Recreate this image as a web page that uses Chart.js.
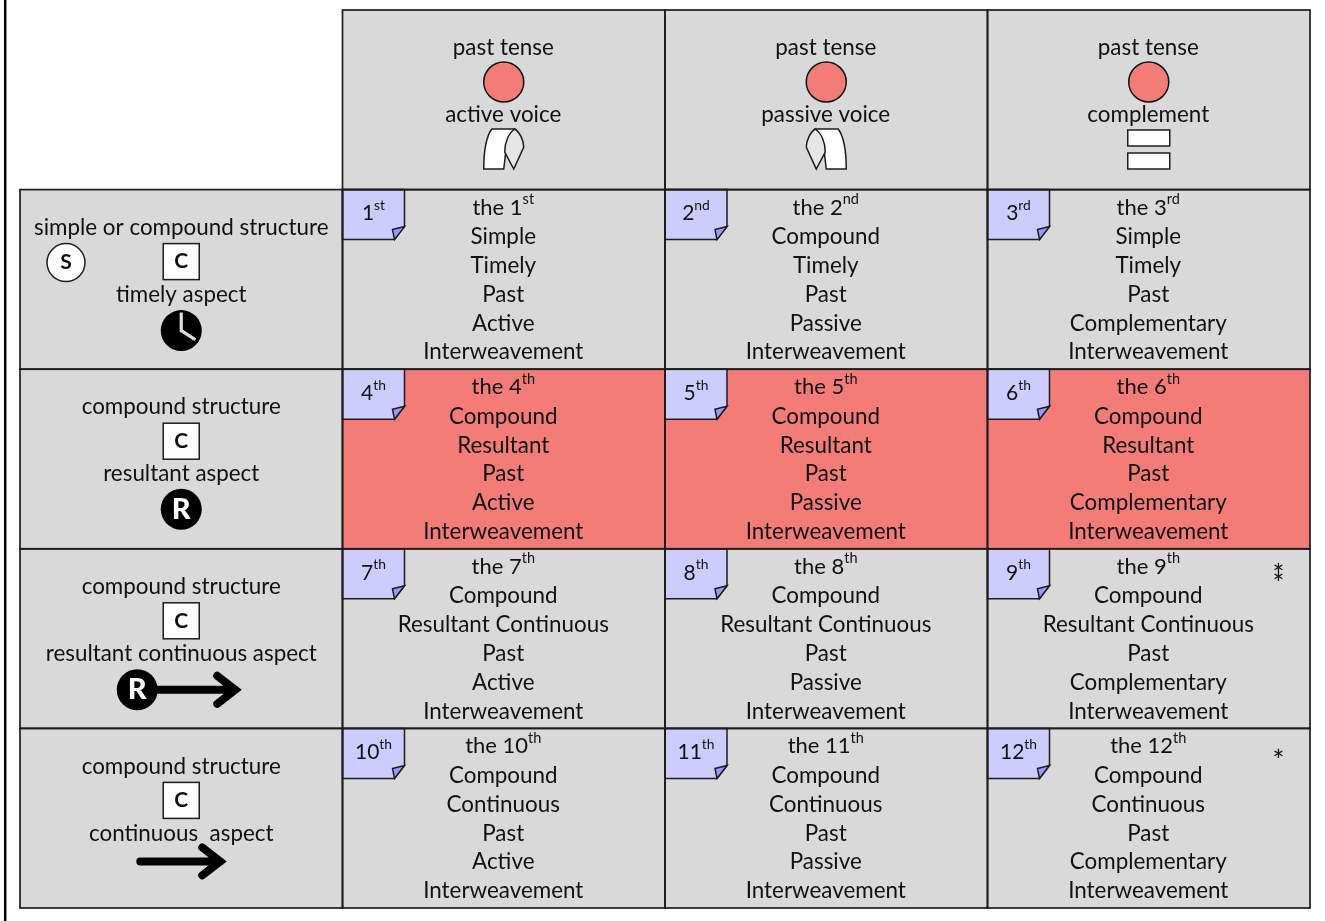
<!DOCTYPE html>
<html>
<head>
<meta charset="utf-8">
<title>Past tense interweavements</title>
<script src="https://cdn.jsdelivr.net/npm/chart.js@4"></script>
<style>
  html, body { margin: 0; padding: 0; background: #ffffff; }
  canvas { display: block; }
</style>
</head>
<body>
<canvas id="tenseChart" width="1325" height="921"></canvas>
<script>
const rowKeys = ["head", "timely", "resultant", "resultantContinuous", "continuous"];
const columnKeys = ["aspect", "active", "passive", "complement"];

const tenseLabels = ["past tense", "past tense", "past tense"];
const voiceHeads = ["active voice", "passive voice", "complement"];
const voiceNames = ["Active", "Passive", "Complementary"];
const structureHeads = ["simple or compound structure", "compound structure", "compound structure", "compound structure"];
const aspectHeads = ["timely aspect", "resultant aspect", "resultant continuous aspect", "continuous  aspect"];
const aspectNames = ["Timely", "Resultant", "Resultant Continuous", "Continuous"];
const structureNames = [
  ["Simple", "Compound", "Simple"],
  ["Compound", "Compound", "Compound"],
  ["Compound", "Compound", "Compound"],
  ["Compound", "Compound", "Compound"],
];
const ordinalNumbers = ["1", "2", "3", "4", "5", "6", "7", "8", "9", "10", "11", "12"];
const ordinalSuffixes = ["st", "nd", "rd", "th", "th", "th", "th", "th", "th", "th", "th", "th"];
const cellStars = { 8: "two", 11: "one" };

const GREY = "#d9d9d9";
const RED = "#f47c78";
const LINE = "#1c1c1c";
const NOTE = "#ccccff";
const FOLD = "#9999ff";
const FONT = "Lato, Carlito, sans-serif";
const TEXT_SIZE = 22.4;

const cellFill = (row, col) => (row === 2 && col > 0 ? RED : GREY);

const datasets = columnKeys.map((key, col) => ({
  label: key,
  data: rowKeys.map((r, i) => (i === 0 && col === 0 ? null : [col, col + 1])),
  backgroundColor: rowKeys.map((r, i) => cellFill(i, col)),
  borderWidth: 0,
  barPercentage: 1,
  categoryPercentage: 1,
  grouped: false,
}));

const label = (ctx, text, x, y, size = TEXT_SIZE, weight = "") => {
  ctx.font = `${weight} ${size}px ${FONT}`;
  ctx.textAlign = "center";
  ctx.textBaseline = "middle";
  ctx.fillStyle = "#111";
  ctx.fillText(text, x, y);
};

const ordinal = (ctx, num, suffix, x, y, prefix, size) => {
  ctx.textBaseline = "middle";
  ctx.fillStyle = "#111";
  ctx.font = `${size}px ${FONT}`;
  const main = prefix + num;
  const w1 = ctx.measureText(main).width;
  ctx.font = `${size * 0.66}px ${FONT}`;
  const w2 = ctx.measureText(suffix).width;
  const start = x - (w1 + w2) / 2;
  ctx.textAlign = "left";
  ctx.font = `${size}px ${FONT}`;
  ctx.fillText(main, start, y);
  ctx.font = `${size * 0.66}px ${FONT}`;
  ctx.fillText(suffix, start + w1, y - 8);
};

const circle = (ctx, x, y, r, fill, stroke) => {
  ctx.beginPath();
  ctx.arc(x, y, r, 0, Math.PI * 2);
  ctx.fillStyle = fill;
  ctx.fill();
  if (stroke) {
    ctx.lineWidth = 1.5;
    ctx.strokeStyle = stroke;
    ctx.stroke();
  }
};

const boxC = (ctx, x, y) => {
  ctx.fillStyle = "#ffffff";
  ctx.strokeStyle = LINE;
  ctx.lineWidth = 1.5;
  ctx.fillRect(x - 18, y - 18, 36, 36);
  ctx.strokeRect(x - 18, y - 18, 36, 36);
  label(ctx, "C", x, y, 21, "bold");
};

const letterR = (ctx, x, y) => {
  circle(ctx, x, y, 20.5, "#000000");
  ctx.font = `900 29px ${FONT}`;
  ctx.textAlign = "center";
  ctx.textBaseline = "middle";
  ctx.fillStyle = "#ffffff";
  ctx.fillText("R", x, y);
};

const clock = (ctx, x, y) => {
  circle(ctx, x, y, 20.5, "#000000");
  ctx.beginPath();
  ctx.moveTo(x, y - 18);
  ctx.lineTo(x, y);
  ctx.lineTo(x + 14, y + 9);
  ctx.strokeStyle = "#dddddd";
  ctx.lineWidth = 3.2;
  ctx.stroke();
};

const arrow = (ctx, x0, x1, y) => {
  ctx.strokeStyle = "#000000";
  ctx.lineWidth = 8;
  ctx.lineCap = "round";
  ctx.lineJoin = "miter";
  ctx.beginPath();
  ctx.moveTo(x0, y);
  ctx.lineTo(x1 - 6, y);
  ctx.moveTo(x1 - 24, y - 14);
  ctx.lineTo(x1 - 6, y);
  ctx.lineTo(x1 - 24, y + 14);
  ctx.stroke();
  ctx.lineCap = "butt";
};

// the folded page under the voice labels, mirrored for the passive column
const page = (ctx, x, mirror) => {
  ctx.save();
  ctx.translate(x, 0);
  ctx.scale(mirror ? -1 : 1, 1);
  ctx.lineWidth = 1.5;
  ctx.strokeStyle = LINE;
  ctx.fillStyle = "#ffffff";
  ctx.beginPath();
  ctx.moveTo(-20, 169);
  ctx.bezierCurveTo(-20, 150, -17, 136, -12, 129);
  ctx.lineTo(11, 129);
  ctx.lineTo(2, 152);
  ctx.lineTo(0, 169);
  ctx.closePath();
  ctx.fill();
  ctx.stroke();
  ctx.fillStyle = "#e6e6e6";
  ctx.beginPath();
  ctx.moveTo(11, 129);
  ctx.bezierCurveTo(16, 132, 20, 141, 20, 147);
  ctx.lineTo(10, 169);
  ctx.lineTo(1, 152);
  ctx.bezierCurveTo(1, 142, 5, 133, 11, 129);
  ctx.closePath();
  ctx.fill();
  ctx.stroke();
  ctx.restore();
};

const note = (ctx, x, y) => {
  ctx.lineWidth = 1.5;
  ctx.strokeStyle = LINE;
  ctx.fillStyle = NOTE;
  ctx.beginPath();
  ctx.moveTo(x, y);
  ctx.lineTo(x + 62, y);
  ctx.lineTo(x + 62, y + 37);
  ctx.lineTo(x + 52, y + 50);
  ctx.lineTo(x, y + 50);
  ctx.closePath();
  ctx.fill();
  ctx.stroke();
  ctx.fillStyle = FOLD;
  ctx.beginPath();
  ctx.moveTo(x + 50, y + 40);
  ctx.lineTo(x + 62, y + 37);
  ctx.lineTo(x + 52, y + 50);
  ctx.closePath();
  ctx.fill();
  ctx.stroke();
};

const tablePlugin = {
  id: "tableText",
  afterDatasetsDraw(chart) {
    const { ctx, scales } = chart;
    const xs = columnKeys.map((k, i) => scales.x.getPixelForValue(i));
    xs.push(scales.x.getPixelForValue(columnKeys.length));
    const half = (scales.y.getPixelForValue(1) - scales.y.getPixelForValue(0)) / 2;
    const tops = rowKeys.map((k, i) => scales.y.getPixelForValue(i) - half);
    tops.push(scales.y.getPixelForValue(rowKeys.length - 1) + half);

    ctx.save();

    // page edge on the far left
    ctx.strokeStyle = "#000000";
    ctx.lineWidth = 2.5;
    ctx.beginPath();
    ctx.moveTo(5.2, 0);
    ctx.lineTo(5.2, chart.height);
    ctx.stroke();

    // header row
    tenseLabels.forEach((t, c) => {
      const cx = (xs[c + 1] + xs[c + 2]) / 2;
      label(ctx, t, cx - 0.5, tops[0] + 38);
      circle(ctx, cx, tops[0] + 72, 20, RED, "#111");
      label(ctx, voiceHeads[c], cx - 0.5, tops[0] + 105);
      if (c < 2) {
        page(ctx, cx, c === 1);
      } else {
        ctx.fillStyle = "#ffffff";
        ctx.strokeStyle = LINE;
        ctx.lineWidth = 1.5;
        [130, 153].forEach((y) => {
          ctx.fillRect(cx - 21, y, 42, 16);
          ctx.strokeRect(cx - 21, y, 42, 16);
        });
      }
    });

    // first column
    structureHeads.forEach((t, r) => {
      const top = tops[r + 1];
      const cx = (xs[0] + xs[1]) / 2;
      label(ctx, t, cx, top + 38);
      boxC(ctx, cx, top + 72);
      label(ctx, aspectHeads[r], cx, top + 105);
      if (r === 0) {
        circle(ctx, 66, top + 73, 19, "#ffffff", LINE);
        label(ctx, "S", 66, top + 73, 21, "bold");
        clock(ctx, cx, top + 141);
      } else if (r === 1) {
        letterR(ctx, cx, top + 140);
      } else if (r === 2) {
        arrow(ctx, cx - 30, cx + 60, top + 141);
        letterR(ctx, cx - 44, top + 141);
      } else {
        arrow(ctx, cx - 41, cx + 45, top + 133);
      }
    });

    // the twelve cells
    aspectNames.forEach((aspect, r) => {
      voiceNames.forEach((voice, c) => {
        const top = tops[r + 1];
        const left = xs[c + 1];
        const cx = (xs[c + 1] + xs[c + 2]) / 2 - 0.5;
        const n = r * 3 + c;
        note(ctx, left, top);
        ordinal(ctx, ordinalNumbers[n], ordinalSuffixes[n], left + 31, top + 24, "", 21);
        ordinal(ctx, ordinalNumbers[n], ordinalSuffixes[n], cx, top + 18, "the ", 22);
        const lines = [structureNames[r][c], aspect, "Past", voice, "Interweavement"];
        lines.forEach((t, i) => label(ctx, t, cx, top + 47.3 + i * 28.8));
        if (cellStars[n] === "two") {
          label(ctx, "*", left + 291, top + 27, 28);
          label(ctx, "*", left + 291, top + 36, 28);
        } else if (cellStars[n] === "one") {
          label(ctx, "*", left + 291, top + 34, 28);
        }
      });
    });

    // cell borders
    ctx.strokeStyle = LINE;
    ctx.lineWidth = 1.7;
    rowKeys.forEach((k, r) => {
      columnKeys.forEach((j, c) => {
        if (r === 0 && c === 0) return;
        ctx.strokeRect(xs[c], tops[r], xs[c + 1] - xs[c], tops[r + 1] - tops[r]);
      });
    });

    ctx.restore();
  },
};

new Chart(document.getElementById("tenseChart").getContext("2d"), {
  type: "bar",
  data: { labels: rowKeys, datasets: datasets },
  options: {
    indexAxis: "y",
    responsive: false,
    animation: false,
    layout: { padding: { left: 20, right: 15, top: 10, bottom: 13 } },
    scales: {
      x: { type: "linear", min: 0, max: columnKeys.length, display: false },
      y: { type: "category", display: false },
    },
    plugins: { legend: { display: false }, tooltip: { enabled: false } },
  },
  plugins: [tablePlugin],
});
</script>
</body>
</html>
